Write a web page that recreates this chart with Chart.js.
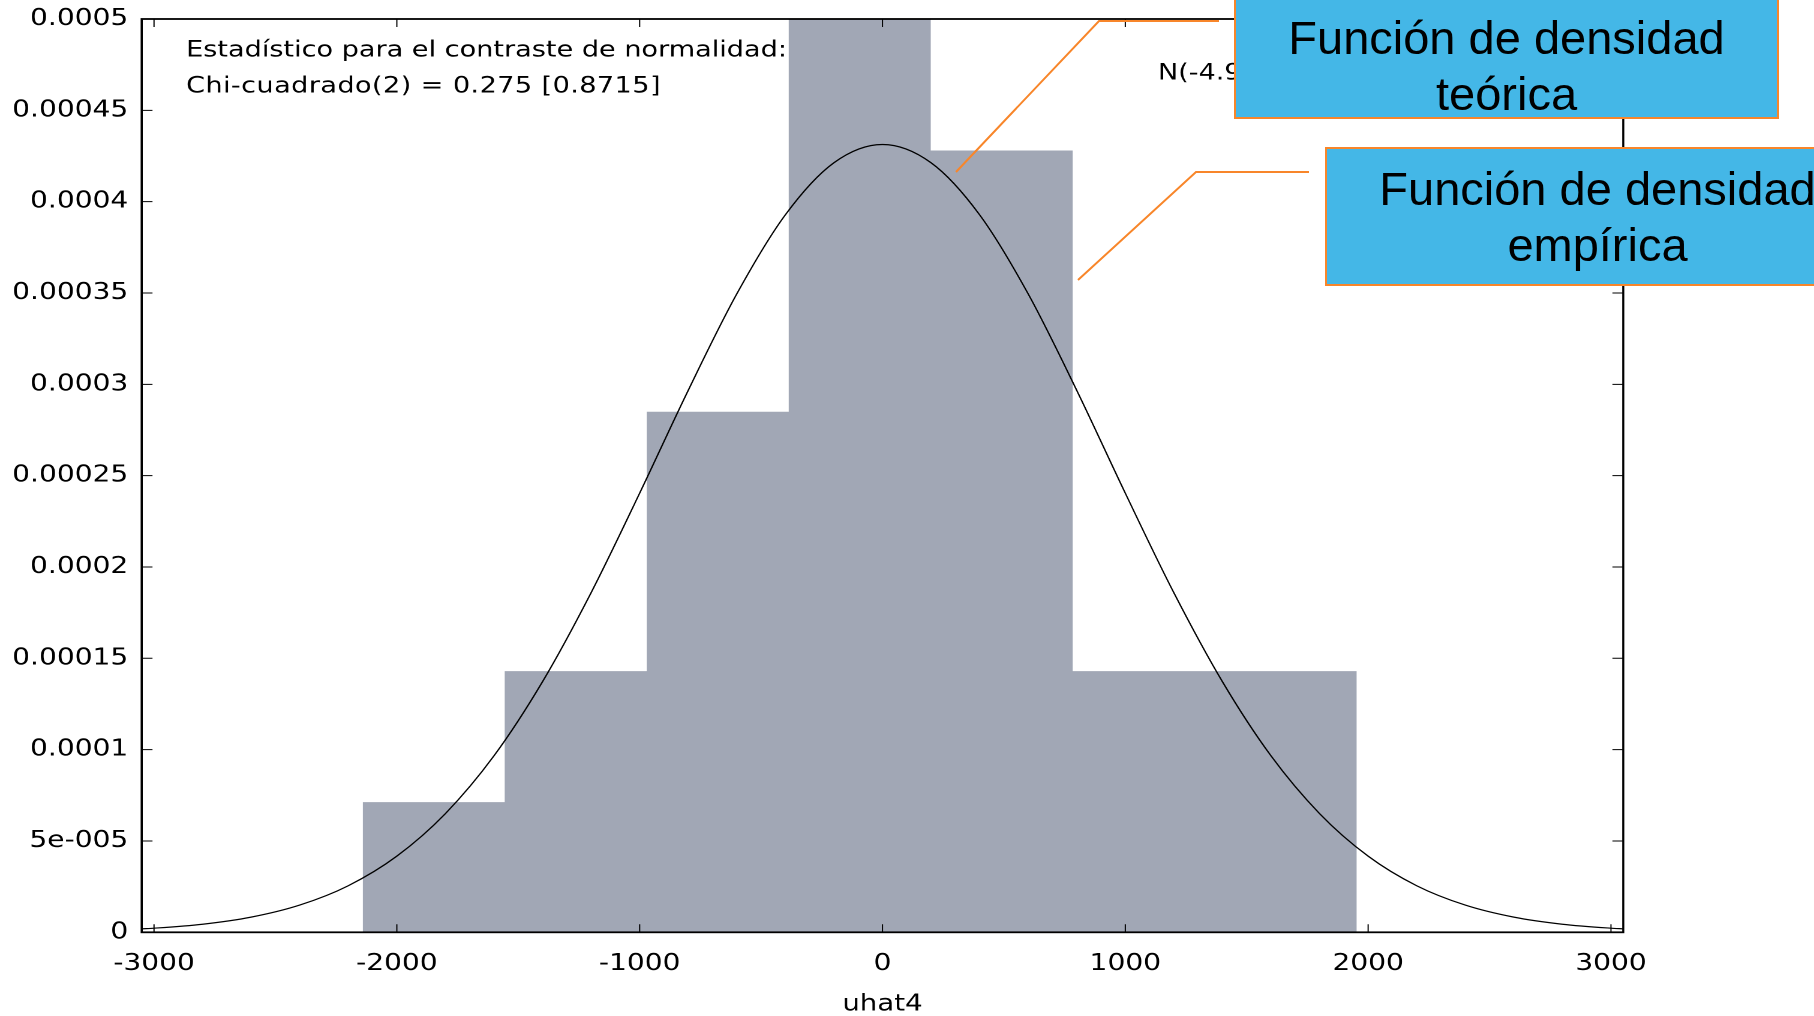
<!DOCTYPE html>
<html lang="es">
<head>
<meta charset="utf-8">
<title>uhat4 – densidad</title>
<script src="https://cdn.jsdelivr.net/npm/chart.js@4.4.1/dist/chart.umd.min.js"></script>
<style>
  html, body { margin: 0; padding: 0; background: #fff; overflow: hidden; }
  #page { position: relative; width: 1814px; height: 1016px; overflow: hidden; background: #fff; }
  /* the gnuplot-style graph is widened horizontally, as pasted on the slide */
  #plot { position: absolute; left: 0; top: 0; width: 1512px; height: 1016px;
          transform: scaleX(1.19974); transform-origin: 0 0; }
  #callouts { position: absolute; left: 0; top: 0; }
  .box { position: absolute; box-sizing: border-box; background: #44b7e7; border: 2px solid #f8862a; }
  .box .t { position: absolute; left: 0; width: 100%; text-align: center; white-space: nowrap;
            font-family: "Liberation Sans", Arial, sans-serif; font-size: 47px; line-height: 55.5px; color: #000; }
</style>
</head>
<body>
<div id="page">
  <div id="plot"><canvas id="c"></canvas></div>
  <svg id="callouts" width="1814" height="1016">
    <polyline points="956,172 1099,21 1219,21" fill="none" stroke="#f8862a" stroke-width="2"/>
    <polyline points="1078,280 1196,172 1309,172" fill="none" stroke="#f8862a" stroke-width="2"/>
  </svg>
  <div class="box" style="left:1234px; top:-20px; width:545px; height:139px;">
    <div class="t" style="top:28px;">Función de densidad<br>teórica</div>
  </div>
  <div class="box" style="left:1325px; top:147px; width:545px; height:139px;">
    <div class="t" style="top:12px;">Función de densidad<br>empírica</div>
  </div>
</div>
<script>
// Histogram of the residuals (density scale) and the fitted normal density
const binEdges   = [-2140.5, -1555.7, -970.9, -386.1, 198.7, 783.5, 1368.3, 1953.1];
const binDensity = [7.13e-5, 1.43e-4, 2.85e-4, 5.0e-4, 4.28e-4, 1.43e-4, 1.43e-4];

const curveX = [-3050, -3000, -2800, -2600, -2400, -2200, -2000, -1800, -1600, -1400, -1200, -1000,
                -800, -600, -400, -200, 0, 200, 400, 600, 800, 1000, 1200, 1400, 1600, 1800,
                2000, 2200, 2400, 2600, 2800, 3000, 3050];
const curveY = [1.88e-6, 2.24e-6, 4.42e-6, 8.30e-6, 1.49e-5, 2.55e-5, 4.17e-5, 6.50e-5, 9.66e-5,
                1.372e-4, 1.859e-4, 2.404e-4, 2.967e-4, 3.495e-4, 3.928e-4, 4.213e-4, 4.313e-4,
                4.213e-4, 3.928e-4, 3.495e-4, 2.967e-4, 2.404e-4, 1.859e-4, 1.372e-4, 9.66e-5,
                6.50e-5, 4.17e-5, 2.55e-5, 1.49e-5, 8.30e-6, 4.42e-6, 2.24e-6, 1.88e-6];

const xMin = -3050.7, xMax = 3050.7;
const xTickValues = [-3000, -2000, -1000, 0, 1000, 2000, 3000];
const xTickLabels = ['-3000', '-2000', '-1000', '0', '1000', '2000', '3000'];
const yTickValues = [0, 0.00005, 0.0001, 0.00015, 0.0002, 0.00025, 0.0003, 0.00035, 0.0004, 0.00045, 0.0005];
const yTickLabels = ['0', '5e-005', '0.0001', '0.00015', '0.0002', '0.00025', '0.0003', '0.00035', '0.0004', '0.00045', '0.0005'];

const xTitle     = 'uhat4';
const testTitle  = 'Estadístico para el contraste de normalidad:';
const testStat   = 'Chi-cuadrado(2) = 0.275 [0.8715]';
const normalKey  = 'N(-4.9738e-013,924.79)';

// step outline of the histogram: each edge carries the height of the bin to its right
const histPoints = binEdges.map((e, i) => ({ x: e, y: binDensity[Math.min(i, binDensity.length - 1)] }));
const curvePoints = curveX.map((v, i) => ({ x: v, y: curveY[i] }));

const FONT = 'DejaVu Sans';

// closed frame with inward ticks on all four sides, plus the in-plot texts
const framePlugin = {
  id: 'frame',
  afterDatasetsDraw(chart) {
    const { ctx, chartArea: a, scales: { x, y } } = chart;
    ctx.save();
    ctx.strokeStyle = '#000';
    ctx.lineWidth = 1;
    ctx.beginPath();
    xTickValues.forEach(v => {
      const px = x.getPixelForValue(v);
      ctx.moveTo(px, a.bottom); ctx.lineTo(px, a.bottom - 8);
      ctx.moveTo(px, a.top);    ctx.lineTo(px, a.top + 8);
    });
    yTickValues.forEach(v => {
      const py = y.getPixelForValue(v);
      ctx.moveTo(a.left, py);  ctx.lineTo(a.left + 9, py);
      ctx.moveTo(a.right, py); ctx.lineTo(a.right - 9, py);
    });
    ctx.stroke();
    ctx.lineWidth = 1.8;
    ctx.strokeRect(a.left, a.top, a.right - a.left, a.bottom - a.top);

    ctx.fillStyle = '#000';
    ctx.textAlign = 'left';
    ctx.textBaseline = 'alphabetic';
    ctx.font = '22.6px "' + FONT + '"';
    ctx.fillText(testTitle, a.left + 37, a.top + 37.7);
    if ('letterSpacing' in ctx) ctx.letterSpacing = '0.35px';
    ctx.fillText(testStat,  a.left + 37, a.top + 73.7);
    if ('letterSpacing' in ctx) ctx.letterSpacing = '0px';
    ctx.fillText(normalKey, a.left + 847, a.top + 60.5);
    ctx.restore();
  }
};

new Chart(document.getElementById('c'), {
  type: 'line',
  data: {
    datasets: [
      {
        label: xTitle,
        data: histPoints,
        stepped: 'before',
        fill: 'origin',
        backgroundColor: '#a1a7b5',
        borderColor: 'rgba(0,0,0,0)',
        borderWidth: 0,
        pointRadius: 0,
        order: 2
      },
      {
        label: normalKey,
        data: curvePoints,
        borderColor: '#000',
        borderWidth: 1.2,
        pointRadius: 0,
        fill: false,
        cubicInterpolationMode: 'monotone',
        order: 1
      }
    ]
  },
  options: {
    responsive: true,
    maintainAspectRatio: false,
    animation: false,
    devicePixelRatio: 2,
    layout: { padding: { left: 0, right: 159, top: 19, bottom: 0 } },
    plugins: { legend: { display: false }, tooltip: { enabled: false } },
    scales: {
      x: {
        type: 'linear',
        min: xMin,
        max: xMax,
        afterBuildTicks: s => { s.ticks = xTickValues.map(v => ({ value: v })); },
        afterFit: s => { s.height = 83.7; },
        grid: { display: false, drawTicks: false },
        border: { display: false },
        ticks: {
          padding: 17.5, color: '#000', autoSkip: false, maxRotation: 0,
          font: { family: FONT, size: 23.4, lineHeight: 1.2 },
          callback: (v, i) => xTickLabels[i]
        },
        title: {
          display: true, text: xTitle, color: '#000',
          font: { family: FONT, size: 23, lineHeight: 1 },
          padding: { top: 0, bottom: 0 }
        }
      },
      y: {
        type: 'linear',
        min: 0,
        max: 0.0005,
        afterBuildTicks: s => { s.ticks = yTickValues.map(v => ({ value: v })); },
        afterFit: s => { s.width = 118.1; s.paddingTop = 0; s.paddingBottom = 0; },
        grid: { display: false, drawTicks: false },
        border: { display: false },
        ticks: {
          padding: 11.2, color: '#000', autoSkip: false,
          font: { family: FONT, size: 23.4, lineHeight: 1.2 },
          callback: (v, i) => yTickLabels[i]
        }
      }
    }
  },
  plugins: [framePlugin]
});
</script>
</body>
</html>
